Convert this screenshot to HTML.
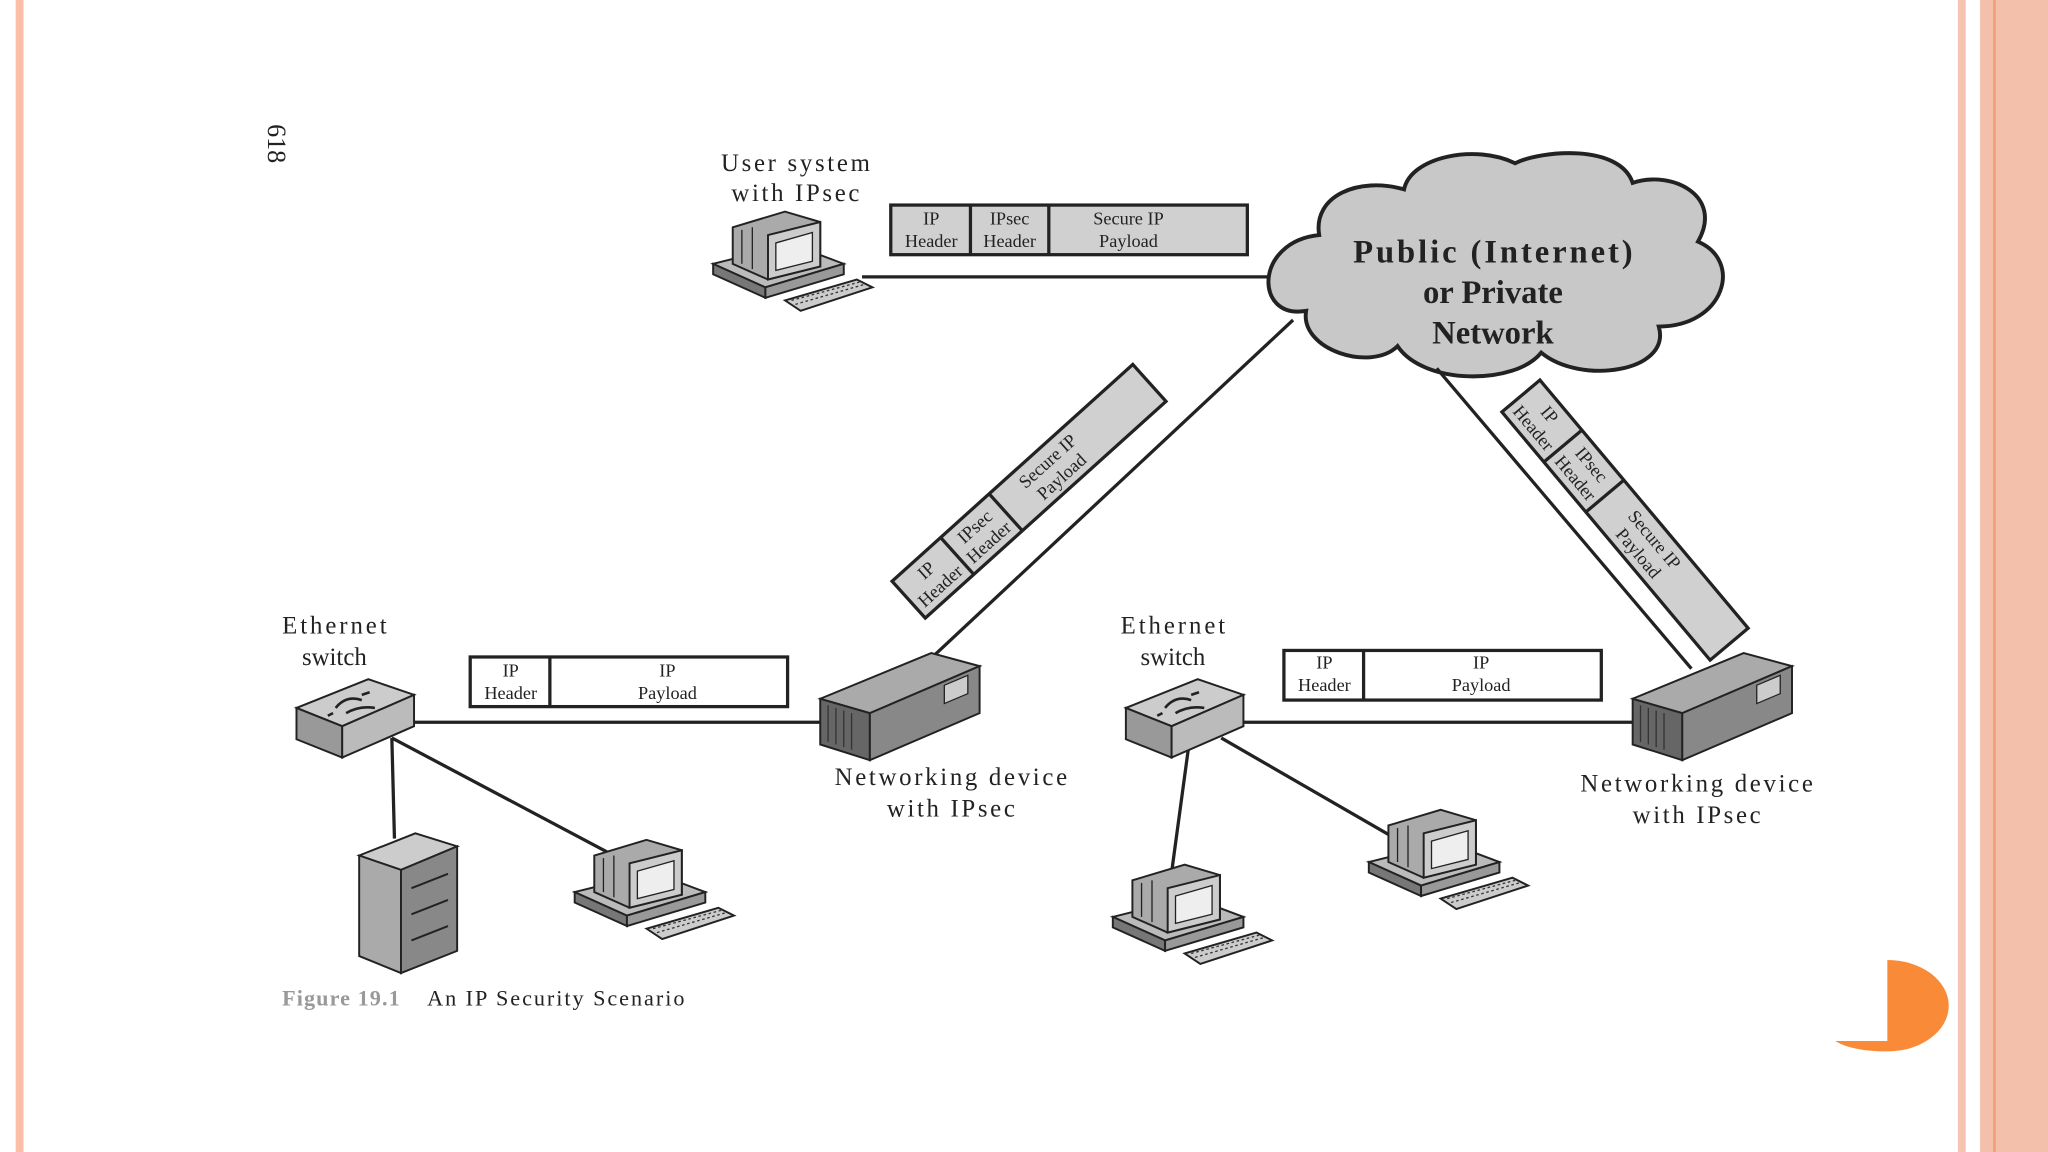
<!DOCTYPE html>
<html><head><meta charset="utf-8"><style>
html,body{margin:0;padding:0;background:#fff}
svg{display:block}
text{font-family:"Liberation Serif",serif;fill:#222}
</style></head><body>
<svg width="2048" height="1152" viewBox="0 0 1568 882" preserveAspectRatio="none" xmlns="http://www.w3.org/2000/svg">
<defs>
<g id="pc">
 <polygon points="0,40 60,25 100,40 40,58" fill="#bbb" stroke="#222" stroke-width="1.5"/>
 <polygon points="0,40 40,58 40,66 0,48" fill="#777" stroke="#222" stroke-width="1.5"/>
 <polygon points="40,58 100,40 100,48 40,66" fill="#999" stroke="#222" stroke-width="1.5"/>
 <polygon points="15,12 55,0 82,8 82,42 42,52 15,40" fill="#aaa" stroke="#222" stroke-width="1.5"/>
 <polygon points="42,18 82,8 82,42 42,52" fill="#ccc" stroke="#222" stroke-width="1.5"/>
 <polygon points="48,24 76,16 76,38 48,45" fill="#eee" stroke="#222" stroke-width="1"/>
 <line x1="22" y1="14" x2="22" y2="40" stroke="#222"/><line x1="30" y1="12" x2="30" y2="44" stroke="#222"/>
 <polygon points="55,68 110,52 122,58 67,76" fill="#ccc" stroke="#222" stroke-width="1.5"/>
 <path d="M60,68 L112,54 M63,71 L115,56" stroke="#333" stroke-width="1" stroke-dasharray="2,2"/>
</g>
<g id="sw">
 <polygon points="0,22 55,0 90,12 35,36" fill="#ccc" stroke="#222" stroke-width="1.5"/>
 <polygon points="0,22 35,36 35,60 0,46" fill="#999" stroke="#222" stroke-width="1.5"/>
 <polygon points="35,36 90,12 90,36 35,60" fill="#bbb" stroke="#222" stroke-width="1.5"/>
 <path d="M30,22 q8,-10 20,-6 M38,26 q10,-6 22,-4 M50,12 l6,-2 M28,26 l-4,2" stroke="#222" fill="none" stroke-width="2"/>
</g>
<g id="dev">
 <polygon points="0,35 85,0 122,10 38,46" fill="#aaa" stroke="#222" stroke-width="1.5"/>
 <polygon points="0,35 38,46 38,82 0,70" fill="#666" stroke="#222" stroke-width="1.5"/>
 <polygon points="38,46 122,10 122,46 38,82" fill="#888" stroke="#222" stroke-width="1.5"/>
 <path d="M6,40 v28 M12,42 v28 M18,44 v28 M24,46 v28" stroke="#333"/>
 <rect x="95" y="25" width="18" height="14" fill="#ccc" stroke="#222" transform="skewY(-23) translate(0,40)"/>
</g>
</defs>
<rect x="12" y="0" width="6" height="882" fill="#fbbfa8"/>
<rect x="1499" y="0" width="6" height="882" fill="#f6c4b0"/>
<rect x="1516" y="0" width="52" height="882" fill="#f2c0ab"/>
<rect x="1526" y="0" width="2" height="882" fill="#f59c78"/>

<text x="205" y="110" font-size="20" text-anchor="middle" transform="rotate(90 205 110)">618</text>

<text x="609" y="131" font-size="19" text-anchor="middle" textLength="114">User system</text>
<text x="609" y="154" font-size="19" text-anchor="middle" textLength="98">with IPsec</text>
<use href="#pc" x="546" y="162"/>
<line x1="660" y1="212" x2="975" y2="212" stroke="#222" stroke-width="2.5"/>
<g stroke="#222" stroke-width="2.5" fill="#d0d0d0">
<rect x="682" y="157" width="273" height="38"/>
<line x1="743" y1="157" x2="743" y2="195"/><line x1="803" y1="157" x2="803" y2="195"/></g>
<g font-size="14" text-anchor="middle"><text x="713" y="172">IP</text><text x="713" y="189">Header</text>
<text x="773" y="172">IPsec</text><text x="773" y="189">Header</text>
<text x="864" y="172">Secure IP</text><text x="864" y="189">Payload</text></g>

<path d="M1010,180 C960,185 960,245 1000,238 C995,268 1050,285 1070,265 C1090,295 1160,295 1180,270 C1210,295 1280,285 1270,250 C1320,250 1335,200 1300,185 C1320,150 1280,130 1250,140 C1240,110 1180,115 1160,125 C1130,110 1080,120 1075,145 C1040,135 1005,150 1010,180 Z" fill="#c8c8c8" stroke="#222" stroke-width="3"/>
<g font-size="25" font-weight="bold" text-anchor="middle"><text x="1143" y="201" textLength="214">Public (Internet)</text><text x="1143" y="232">or Private</text><text x="1143" y="263">Network</text></g>

<line x1="990" y1="245" x2="715" y2="502" stroke="#222" stroke-width="2.5"/>
<line x1="1100" y1="282" x2="1295" y2="512" stroke="#222" stroke-width="2.5"/>

<g transform="translate(683,445) rotate(-42)">
<rect x="0" y="0" width="248" height="38" fill="#d0d0d0" stroke="#222" stroke-width="2.5"/>
<line x1="50" y1="0" x2="50" y2="38" stroke="#222" stroke-width="2.5"/><line x1="100" y1="0" x2="100" y2="38" stroke="#222" stroke-width="2.5"/>
<g font-size="14" text-anchor="middle"><text x="25" y="16">IP</text><text x="25" y="32">Header</text><text x="75" y="16">IPsec</text><text x="75" y="32">Header</text><text x="150" y="16">Secure IP</text><text x="150" y="32">Payload</text></g></g>

<g transform="translate(1179,291) rotate(50)">
<rect x="0" y="0" width="248" height="38" fill="#d0d0d0" stroke="#222" stroke-width="2.5"/>
<line x1="50" y1="0" x2="50" y2="38" stroke="#222" stroke-width="2.5"/><line x1="100" y1="0" x2="100" y2="38" stroke="#222" stroke-width="2.5"/>
<g font-size="14" text-anchor="middle"><text x="25" y="16">IP</text><text x="25" y="32">Header</text><text x="75" y="16">IPsec</text><text x="75" y="32">Header</text><text x="150" y="16">Secure IP</text><text x="150" y="32">Payload</text></g></g>

<text x="256" y="485" font-size="19" text-anchor="middle" textLength="80">Ethernet</text>
<text x="256" y="509" font-size="19" text-anchor="middle">switch</text>
<g stroke="#222" stroke-width="2.5"><line x1="316" y1="553" x2="632" y2="553"/><line x1="300" y1="565" x2="302" y2="642"/><line x1="300" y1="565" x2="470" y2="655"/>
<line x1="950" y1="553" x2="1252" y2="553"/><line x1="910" y1="572" x2="897" y2="668"/><line x1="935" y1="565" x2="1065" y2="640"/></g>
<use href="#sw" x="227" y="520"/>
<g stroke="#222" stroke-width="2.5" fill="#fff"><rect x="360" y="503" width="243" height="38"/><line x1="421" y1="503" x2="421" y2="541"/>
<rect x="983" y="498" width="243" height="38"/><line x1="1044" y1="498" x2="1044" y2="536"/></g>
<g font-size="14" text-anchor="middle"><text x="391" y="518">IP</text><text x="391" y="535">Header</text><text x="511" y="518">IP</text><text x="511" y="535">Payload</text>
<text x="1014" y="512">IP</text><text x="1014" y="529">Header</text><text x="1134" y="512">IP</text><text x="1134" y="529">Payload</text></g>
<use href="#dev" x="628" y="500"/>
<text x="728" y="601" font-size="19" text-anchor="middle" textLength="178">Networking device</text>
<text x="728" y="625" font-size="19" text-anchor="middle" textLength="98">with IPsec</text>

<g stroke="#222" stroke-width="1.5">
<polygon points="275,655 318,638 350,648 307,666" fill="#ccc"/>
<polygon points="275,655 307,666 307,745 275,732" fill="#aaa"/>
<polygon points="307,666 350,648 350,728 307,745" fill="#888"/>
<path d="M315,680 l28,-11 M315,700 l28,-11 M315,720 l28,-11" /></g>
<use href="#pc" x="440" y="643"/>
<text x="216" y="770" font-size="17" font-weight="bold" style="fill:#999" textLength="90">Figure 19.1</text>
<text x="327" y="770" font-size="17" textLength="197">An IP Security Scenario</text>

<text x="898" y="485" font-size="19" text-anchor="middle" textLength="80">Ethernet</text>
<text x="898" y="509" font-size="19" text-anchor="middle">switch</text>
<use href="#sw" x="862" y="520"/>
<use href="#dev" x="1250" y="500"/>
<text x="1299" y="606" font-size="19" text-anchor="middle" textLength="178">Networking device</text>
<text x="1299" y="630" font-size="19" text-anchor="middle" textLength="98">with IPsec</text>
<use href="#pc" x="852" y="662"/>
<use href="#pc" x="1048" y="620"/>

<path d="M1445,735 A47,35 0 0 1 1445,805 C1430,805 1415,803 1405,797 L1445,797 Z" fill="#f98a37"/>
</svg>
</body></html>
